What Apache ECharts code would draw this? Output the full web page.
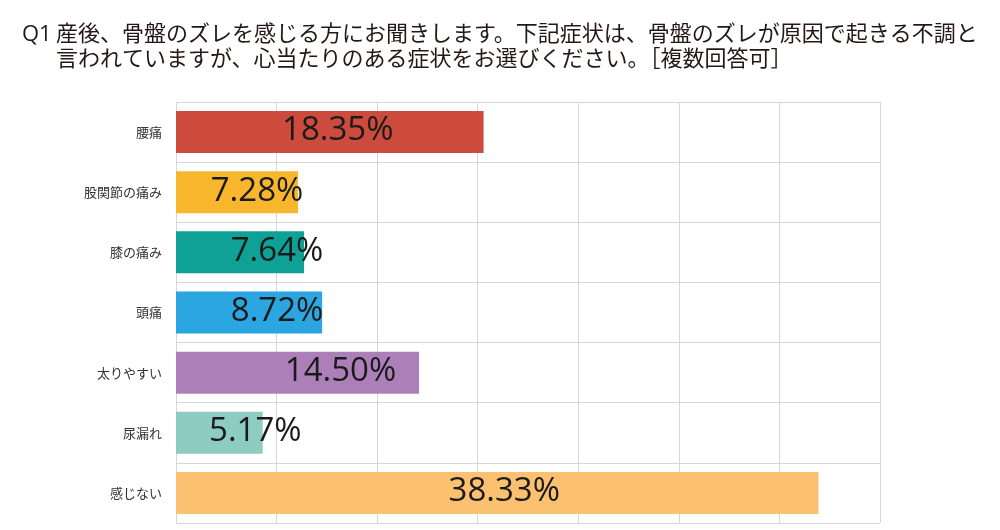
<!DOCTYPE html>
<html>
  <head>
    <meta charset="utf-8" />
    <title>Q1 骨盤のズレ</title>
    <script src="https://cdn.jsdelivr.net/npm/echarts@6/dist/echarts.min.js"></script>
    <style type="text/css">
      html, body { margin: 0; padding: 0; background: #fff; }
    </style>
  </head>
  <body>
    <div id="main" style="width: 1000px; height: 530px"></div>
    <script type="text/javascript">
      // データ
      var categories = ["腰痛", "股関節の痛み", "膝の痛み", "頭痛", "太りやすい", "尿漏れ", "感じない"];
      var values = [18.35, 7.28, 7.64, 8.72, 14.5, 5.17, 38.33];
      var barColors = ["#cd4b3d", "#f8b62d", "#0fa195", "#2ca6e0", "#ad7fb9", "#8ecbc2", "#fbc070"];
      // ラベルの横ずれ（見た目の調整用）
      var labelShift = [8, 20, 37, 28, 43, 36, 7];

      var jpFont = '"Noto Sans CJK JP", "Noto Sans", sans-serif';

      var myChart = echarts.init(document.getElementById("main"));

      var option = {
        animation: false,
        title: [
          {
            text: "Q1",
            left: 17,
            top: 19,
            textStyle: { fontFamily: '"Open Sans", sans-serif', fontSize: 22, fontWeight: "normal", color: "#231815" }
          },
          {
            text: "産後、骨盤のズレを感じる方にお聞きします。下記症状は、骨盤のズレが原因で起きる不調と\n言われていますが、心当たりのある症状をお選びください。［複数回答可］",
            left: 51,
            top: 15,
            textStyle: { fontFamily: jpFont, fontSize: 22, fontWeight: "normal", color: "#231815", lineHeight: 25 }
          }
        ],
        grid: { left: 176, right: 120, top: 102, bottom: 7, containLabel: false },
        xAxis: {
          type: "value",
          min: 0,
          max: 42,
          interval: 6,
          axisLabel: { show: false },
          axisLine: { show: false },
          axisTick: { show: false },
          splitLine: { show: true, lineStyle: { color: "#d6d6d6", width: 1 } }
        },
        yAxis: {
          type: "category",
          inverse: true,
          data: categories,
          axisLine: { show: false },
          axisTick: { show: false },
          axisLabel: { margin: 14, fontFamily: jpFont, fontSize: 13, color: "#333" },
          splitLine: { show: true, lineStyle: { color: "#d6d6d6", width: 1 } }
        },
        series: [
          {
            type: "bar",
            barWidth: 42,
            data: values.map(function (v, i) {
              return {
                value: v,
                itemStyle: { color: barColors[i] },
                label: { offset: [labelShift[i], -1] }
              };
            }),
            label: {
              show: true,
              position: "inside",
              fontFamily: '"Open Sans", sans-serif',
              fontSize: 33,
              color: "#1a1a1a",
              formatter: function (p) { return p.value.toFixed(2) + "%"; }
            }
          }
        ]
      };

      myChart.setOption(option);
    </script>
  </body>
</html>
